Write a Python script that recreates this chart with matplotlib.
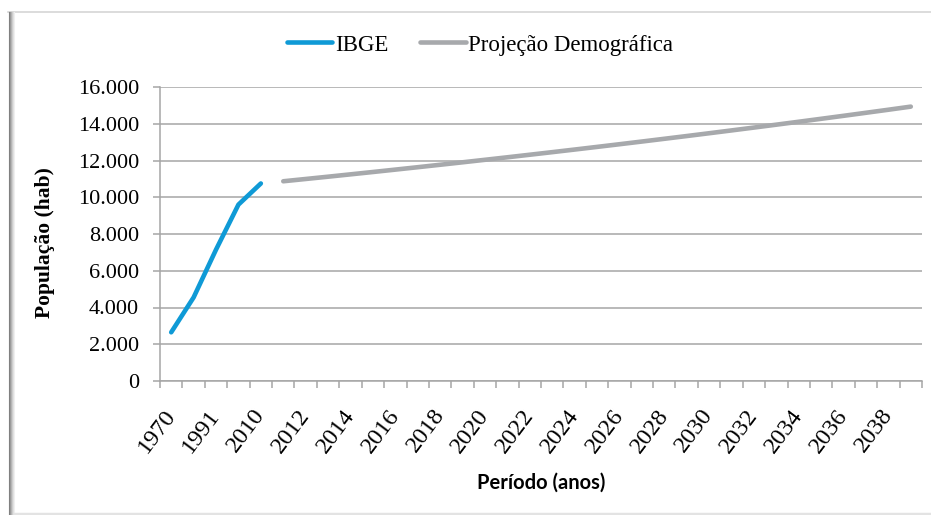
import matplotlib
matplotlib.use('Agg')
import matplotlib.pyplot as plt
from matplotlib.ticker import FuncFormatter, FixedLocator
from matplotlib.lines import Line2D
import numpy as np

# categorias do eixo x (eixo de categorias, estilo Excel)
anos = ['1970', '1980', '1991', '2000', '2010',
        '2011', '2012', '2013', '2014', '2015', '2016', '2017', '2018', '2019',
        '2020', '2021', '2022', '2023', '2024', '2025', '2026', '2027', '2028',
        '2029', '2030', '2031', '2032', '2033', '2034', '2035', '2036', '2037',
        '2038', '2039']

# dados censitarios (IBGE) 1970-2010
ibge = [2650, 4550, 7150, 9600, 10750]

# projecao 2011-2039
projecao = [10870, 10994, 11119, 11246, 11374, 11504, 11635, 11768, 11902,
            12038, 12175, 12314, 12454, 12596, 12740, 12885, 13032, 13181,
            13331, 13483, 13637, 13792, 13950, 14109, 14270, 14432, 14597,
            14763, 14932]

plt.rcParams['font.family'] = ['Liberation Serif', 'DejaVu Serif']
azul = '#0f9ad6'
cinza = '#a7a9ac'
grade = '#a6a6a6'

W, H = 931, 515
fig = plt.figure(figsize=(W / 100, H / 100), dpi=100)
ax = fig.add_axes([160 / W, 1 - 381 / H, (922 - 160) / W, (381 - 87) / H])

x = np.arange(len(anos))
x_ibge = x[:len(ibge)]
x_proj = x[len(ibge):len(ibge) + len(projecao)]

ax.plot(x_ibge, ibge, color=azul, lw=3.3, solid_capstyle='round', solid_joinstyle='round', label='IBGE')
ax.plot(x_proj, projecao, color=cinza, lw=3.3, solid_capstyle='round', solid_joinstyle='round', label='Projeção Demográfica')

ax.set_xlim(-0.5, len(anos) - 0.5)
ax.set_ylim(0, 16000)
ax.set_yticks(np.arange(0, 16001, 2000))
ax.yaxis.set_major_formatter(FuncFormatter(lambda v, p: f'{v:,.0f}'.replace(',', '.')))
ax.grid(axis='y', color=grade, lw=1.1)
ax.set_axisbelow(True)

for s in ['top', 'right']:
    ax.spines[s].set_visible(False)
for s in ['left', 'bottom']:
    ax.spines[s].set_color(grade)
    ax.spines[s].set_linewidth(1.1)

# marcas nas fronteiras das categorias, rotulos a cada duas categorias
ax.xaxis.set_major_locator(FixedLocator(np.arange(-0.5, len(anos), 1)))
ax.xaxis.set_major_formatter(FuncFormatter(lambda v, p: ''))
ax.xaxis.set_minor_locator(FixedLocator(x[::2]))
ax.set_xticklabels(anos[::2], minor=True, rotation=53, ha='right', va='center',
                   rotation_mode='anchor', fontsize=17.5)
ax.tick_params(axis='x', which='major', length=5, width=1.1, color=grade)
ax.tick_params(axis='x', which='minor', length=0, pad=22)
ax.tick_params(axis='y', length=5, width=1.1, color=grade, labelsize=16, pad=10)

fig.text(45 / W, 1 - 243 / H, 'População (hab)', rotation=90, ha='center', va='center',
         fontweight='bold', fontsize=15.5)
fig.text(541 / W, 1 - 483 / H, 'Período (anos)', ha='center', va='center',
         fontfamily='Lato', fontweight='bold', fontsize=14.5)

ax.legend(loc='center', bbox_to_anchor=(480 / W, 1 - 45 / H), bbox_transform=fig.transFigure,
          ncol=2, frameon=False, handlelength=2.0, handletextpad=0.1, columnspacing=1.4,
          prop={'size': 16.5})

# moldura do grafico
fig.add_artist(Line2D([8 / W, 1], [1 - 12 / H] * 2, color='#d6d6d6', lw=1.2))
tons = ['#7f7f7f', '#999999', '#b3b3b3', '#cccccc', '#e0e0e0', '#efefef']
for i, c in enumerate(tons):
    fig.add_artist(Line2D([(8.5 + i) / W] * 2, [0, 1 - 12 / H], color=c, lw=0.8))
fig.add_artist(Line2D([15 / W, 1], [1.5 / H] * 2, color='#e3e3e3', lw=2.5))

fig.savefig('out.png', dpi=100)
